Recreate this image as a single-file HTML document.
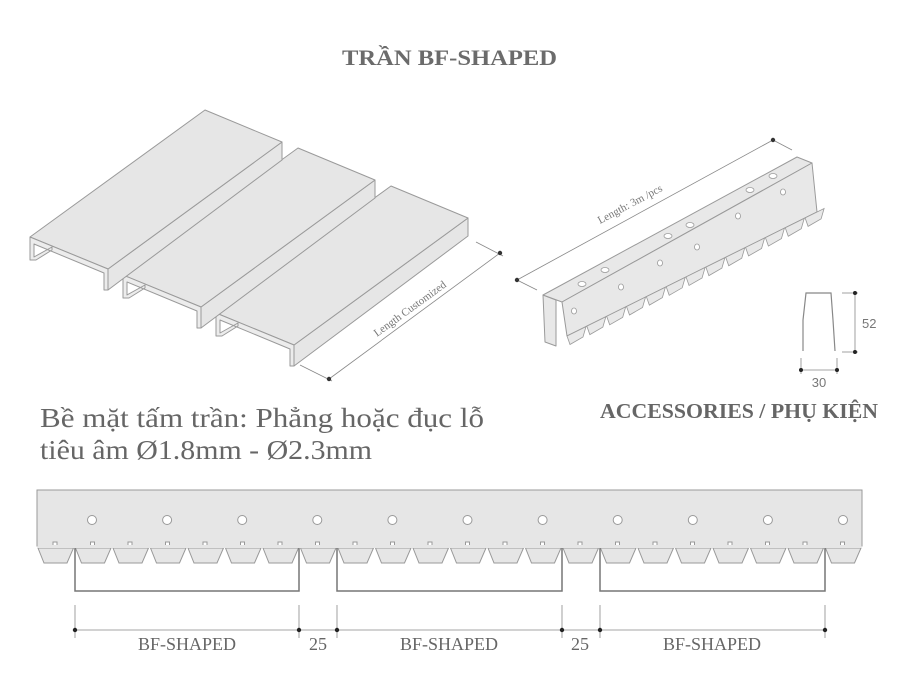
<!DOCTYPE html>
<html><head><meta charset="utf-8"><style>
html,body{margin:0;padding:0;background:#fff;width:897px;height:678px;overflow:hidden}
svg{display:block}
</style></head><body>
<svg id="s" width="897" height="678" viewBox="0 0 897 678" xmlns="http://www.w3.org/2000/svg">
<rect width="897" height="678" fill="#fff"/>
<text x="342" y="65" font-family="Liberation Serif, serif" font-weight="bold" font-size="22" fill="#6b6b6b" textLength="215" lengthAdjust="spacingAndGlyphs">TRẦN BF-SHAPED</text>

<g id="panels" stroke="#9a9a9a" stroke-width="1" stroke-linejoin="round" fill="#e6e6e6"></g>

<g stroke="#888" stroke-width="0.8" fill="none">
<line x1="329" y1="379" x2="500" y2="253"/>
<line x1="300" y1="365" x2="332" y2="381"/>
<line x1="476" y1="242" x2="503" y2="256"/>
</g>
<circle cx="329" cy="379" r="2.2" fill="#333"/><circle cx="500" cy="253" r="2.2" fill="#333"/>
<text transform="translate(377,337) rotate(-36)" font-family="Liberation Serif, serif" font-size="11" fill="#777">Length Customized</text>

<g stroke="#9a9a9a" stroke-width="1" fill="#e8e8e8" stroke-linejoin="round">
<polygon points="543,295 556,300 556,346 545,342"/>
<polygon points="543,295 797,157 812,163 562,302"/>
<polygon points="562,302 812,163 817,212 567,336"/>
</g>
<g id="railteeth" stroke="#9a9a9a" stroke-width="0.8" fill="#e8e8e8"></g>
<g stroke="#888" stroke-width="0.8" fill="none">
<line x1="517" y1="280" x2="773" y2="140"/>
<line x1="517" y1="280" x2="537" y2="290"/>
<line x1="773" y1="140" x2="792" y2="150"/>
</g>
<circle cx="517" cy="280" r="2.2" fill="#333"/><circle cx="773" cy="140" r="2.2" fill="#333"/>
<text transform="translate(600,224) rotate(-28)" font-family="Liberation Serif, serif" font-size="11" fill="#777">Length: 3m /pcs</text>

<g stroke="#888" stroke-width="1.2" fill="none">
<polyline points="803,351 803,320 806,293 831,293 833,320 835,351"/>
</g>
<g stroke="#888" stroke-width="0.8" fill="none">
<line x1="842" y1="293" x2="858" y2="293"/><line x1="842" y1="352" x2="858" y2="352"/>
<line x1="855" y1="293" x2="855" y2="352"/>
<line x1="801" y1="358" x2="801" y2="374"/><line x1="837" y1="358" x2="837" y2="374"/>
<line x1="801" y1="370" x2="837" y2="370"/>
</g>
<g fill="#222"><circle cx="855" cy="293" r="2"/><circle cx="855" cy="352" r="2"/><circle cx="801" cy="370" r="2"/><circle cx="837" cy="370" r="2"/></g>
<text x="862" y="328" font-family="Liberation Sans, sans-serif" font-size="13" fill="#777">52</text>
<text x="819" y="387" text-anchor="middle" font-family="Liberation Sans, sans-serif" font-size="13" fill="#777">30</text>

<text x="40" y="427" font-family="Liberation Serif, serif" font-size="27" fill="#666" textLength="444" lengthAdjust="spacingAndGlyphs">Bề mặt tấm trần: Phẳng hoặc đục lỗ</text>
<text x="40" y="459" font-family="Liberation Serif, serif" font-size="27" fill="#666" textLength="332" lengthAdjust="spacingAndGlyphs">tiêu âm Ø1.8mm - Ø2.3mm</text>
<text x="600" y="418" font-family="Liberation Serif, serif" font-weight="bold" font-size="21" fill="#666" textLength="278" lengthAdjust="spacingAndGlyphs">ACCESSORIES / PHỤ KIỆN</text>

<rect x="37" y="490" width="825" height="56" fill="#e6e6e6" stroke="#999" stroke-width="1"/>
<g id="strip" stroke="#999" stroke-width="1" fill="#e6e6e6"></g>
<g stroke="#777" stroke-width="1.5" fill="none">
<polyline points="75,548 75,591 299,591 299,548"/>
<polyline points="337,548 337,591 562,591 562,548"/>
<polyline points="600,548 600,591 825,591 825,548"/>
</g>
<g stroke="#888" stroke-width="0.8" fill="none">
<line x1="75" y1="630" x2="825" y2="630"/>
<line x1="75" y1="605" x2="75" y2="638"/><line x1="299" y1="605" x2="299" y2="638"/>
<line x1="337" y1="605" x2="337" y2="638"/><line x1="562" y1="605" x2="562" y2="638"/>
<line x1="600" y1="605" x2="600" y2="638"/><line x1="825" y1="605" x2="825" y2="638"/>
</g>
<g fill="#222"><circle cx="75" cy="630" r="2.2"/><circle cx="299" cy="630" r="2.2"/><circle cx="337" cy="630" r="2.2"/><circle cx="562" cy="630" r="2.2"/><circle cx="600" cy="630" r="2.2"/><circle cx="825" cy="630" r="2.2"/></g>
<g font-family="Liberation Serif, serif" font-size="18" fill="#666" text-anchor="middle">
<text x="187" y="650">BF-SHAPED</text><text x="318" y="650">25</text>
<text x="449" y="650">BF-SHAPED</text><text x="580" y="650">25</text>
<text x="712" y="650">BF-SHAPED</text>
</g>
</svg>
<script>
var NS="http://www.w3.org/2000/svg";
function el(p,t,a){var e=document.createElementNS(NS,t);for(var k in a)e.setAttribute(k,a[k]);p.appendChild(e);return e;}
var P=document.getElementById('panels');
[[186,76],[93,38],[0,0]].forEach(function(o){
 var dx=o[0],dy=o[1];
 function pt(a){return a.map(function(q){return (q[0]+dx)+','+(q[1]+dy)}).join(' ');}
 el(P,'polygon',{points:pt([[108,269],[282,142],[282,160],[108,290]])});
 el(P,'polygon',{points:pt([[30,237],[205,110],[282,142],[108,269]])});
 el(P,'polygon',{points:pt([[30,237],[108,269],[108,290],[104,290],[104,273],[34,244],[34,257],[52,247],[52,250],[36,260],[30,260]]),fill:'#ececec'});
});
var R=document.getElementById('railteeth');
for(var i=0;i<13;i++){
 var t=i/12.6;var x=567+t*250,y=336-t*124;
 el(R,'polygon',{points:(x)+','+(y)+' '+(x+19)+','+(y-9.4)+' '+(x+16)+','+(y+1)+' '+(x+3)+','+(y+8.5)});
}
[[574,311],[621,287],[660,263],[697,247],[738,216],[783,192]].forEach(function(h){el(R,'ellipse',{cx:h[0],cy:h[1],rx:2.5,ry:3,fill:'#fff'});});
[[582,284],[605,270],[668,236],[690,225],[750,190],[773,176]].forEach(function(h){el(R,'ellipse',{cx:h[0],cy:h[1],rx:4,ry:2.5,fill:'#fff'});});
var S=document.getElementById('strip');
for(var i=0;i<22;i++){
 var x=37+i*37.5;
 el(S,'polygon',{points:(x+1)+',548 '+(x+36.5)+',548 '+(x+30)+',563 '+(x+7)+',563'});
 el(S,'rect',{x:x+16,y:542,width:4,height:6,fill:'#fff'});
}
el(S,'rect',{x:37.5,y:545,width:824,height:3,stroke:'none'});
for(var i=0;i<11;i++){el(S,'circle',{cx:92+i*75.1,cy:520,r:4.5,fill:'#fff'});}
</script>
</body></html>
